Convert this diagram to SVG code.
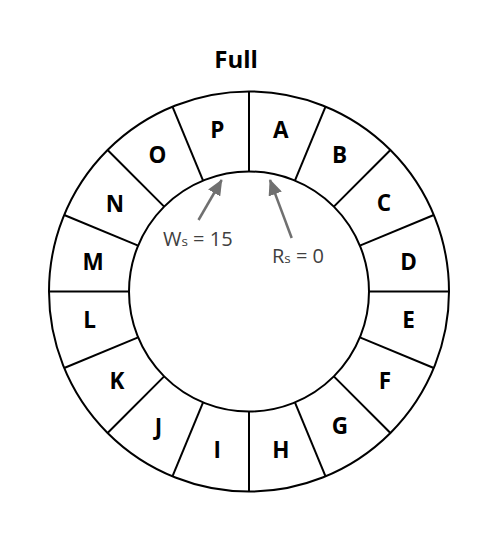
<svg xmlns="http://www.w3.org/2000/svg" width="490" height="550" viewBox="0 0 490 550">
<style>
.ring{fill:none;stroke:#000;stroke-width:2}
.div{stroke:#000;stroke-width:2}
.lbl{font-family:"Open Sans","DejaVu Sans",sans-serif;font-weight:bold;font-size:22.5px;fill:#000;text-anchor:middle;dominant-baseline:central}
.title{font-family:"Open Sans","DejaVu Sans",sans-serif;font-weight:bold;font-size:24px;fill:#000;text-anchor:middle}
.ann{font-family:"Open Sans","DejaVu Sans",sans-serif;font-size:20px;fill:#404040}
.arr{stroke:#707070;stroke-width:2.5;fill:none}
</style>
<defs>
<marker id="ah" markerUnits="userSpaceOnUse" markerWidth="16" markerHeight="14" refX="15" refY="7" orient="auto">
<path d="M0,0 L16,7 L0,14 Z" fill="#707070"/>
</marker>
</defs>
<rect width="490" height="550" fill="#fff"/>
<text class="title" x="236" y="68">Full</text>
<g id="ring">
<circle class="ring" cx="249" cy="291.5" r="200"/>
<circle class="ring" cx="249" cy="291.5" r="120"/>
<line class="div" x1="249" y1="171.5" x2="249" y2="91.5"/>
<line class="div" x1="294.92" y1="180.63" x2="325.54" y2="106.72"/>
<line class="div" x1="333.85" y1="206.65" x2="390.42" y2="150.08"/>
<line class="div" x1="359.87" y1="245.58" x2="433.78" y2="214.96"/>
<line class="div" x1="369" y1="291.5" x2="449" y2="291.5"/>
<line class="div" x1="359.87" y1="337.42" x2="433.78" y2="368.04"/>
<line class="div" x1="333.85" y1="376.35" x2="390.42" y2="432.92"/>
<line class="div" x1="294.92" y1="402.37" x2="325.54" y2="476.28"/>
<line class="div" x1="249" y1="411.5" x2="249" y2="491.5"/>
<line class="div" x1="203.08" y1="402.37" x2="172.46" y2="476.28"/>
<line class="div" x1="164.15" y1="376.35" x2="107.58" y2="432.92"/>
<line class="div" x1="138.13" y1="337.42" x2="64.22" y2="368.04"/>
<line class="div" x1="129" y1="291.5" x2="49" y2="291.5"/>
<line class="div" x1="138.13" y1="245.58" x2="64.22" y2="214.96"/>
<line class="div" x1="164.15" y1="206.65" x2="107.58" y2="150.08"/>
<line class="div" x1="203.08" y1="180.63" x2="172.46" y2="106.72"/>
</g>
<g id="slot-A"><text class="lbl" x="280.8" y="129.6">A</text></g>
<g id="slot-B"><text class="lbl" x="339.6" y="154.5">B</text></g>
<g id="slot-C"><text class="lbl" x="384" y="202">C</text></g>
<g id="slot-D"><text class="lbl" x="408.5" y="261">D</text></g>
<g id="slot-E"><text class="lbl" x="408.5" y="319">E</text></g>
<g id="slot-F"><text class="lbl" x="385" y="380.5">F</text></g>
<g id="slot-G"><text class="lbl" x="340" y="425">G</text></g>
<g id="slot-H"><text class="lbl" x="280.8" y="449.4">H</text></g>
<g id="slot-I"><text class="lbl" x="217.2" y="449.4">I</text></g>
<g id="slot-J"><text class="lbl" x="158.4" y="426">J</text></g>
<g id="slot-K"><text class="lbl" x="117" y="380.5">K</text></g>
<g id="slot-L"><text class="lbl" x="89.5" y="319">L</text></g>
<g id="slot-M"><text class="lbl" x="93" y="261">M</text></g>
<g id="slot-N"><text class="lbl" x="115" y="203">N</text></g>
<g id="slot-O"><text class="lbl" x="157.5" y="154.5">O</text></g>
<g id="slot-P"><text class="lbl" x="217.2" y="129.6">P</text></g>
<g id="connectors">
<line class="arr" x1="198.5" y1="220" x2="221.7" y2="180" marker-end="url(#ah)"/>
<line class="arr" x1="291.7" y1="238" x2="270" y2="180" marker-end="url(#ah)"/>
</g>
<g id="ws-label"><text class="ann" x="163" y="246">W<tspan font-size="13.5">s</tspan> = 15</text></g>
<g id="rs-label"><text class="ann" x="272" y="263">R<tspan font-size="13.5">s</tspan> = 0</text></g>
</svg>
